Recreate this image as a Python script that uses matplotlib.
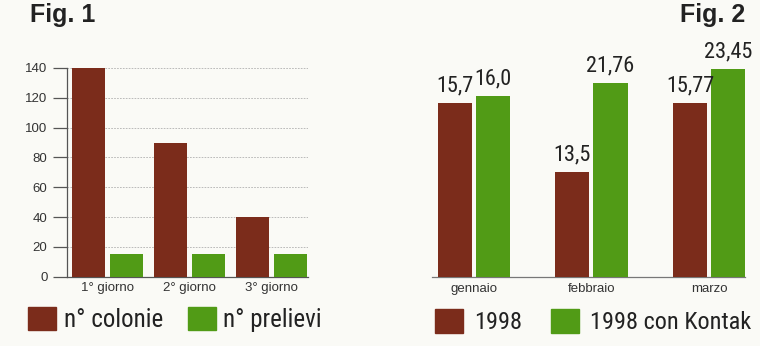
import os
import numpy as np
import matplotlib.pyplot as plt
from matplotlib.patches import Patch
from matplotlib import font_manager as fm

# dati Fig. 1
giorni = ['1° giorno', '2° giorno', '3° giorno']
colonie = [140, 90, 40]
prelievi = [15, 15, 15]
y_ticks = [0, 20, 40, 60, 80, 100, 120, 140]

# dati Fig. 2 (le altezze disegnate non sono proporzionali alle etichette)
mesi = ['gennaio', 'febbraio', 'marzo']
etichette_1998 = ['15,7', '13,5', '15,77']
etichette_kontak = ['16,0', '21,76', '23,45']
altezze_1998 = [174, 105, 174]
altezze_kontak = [181, 194, 208]

MARRONE = '#7b2c1b'
VERDE = '#519b16'
SFONDO = '#fafaf6'

# cerca un carattere stretto (condensed / narrow) fra quelli installati
preferiti = ['LiberationSansNarrow-Regular', 'NotoSans-Condensed.', 'NotoSans-Condensed-',
             'RobotoCondensed-Regular', 'Roboto_Condensed-Regular', 'OpenSans-CondensedRegular',
             'OpenSans_Condensed-Regular', 'DejaVuSansCondensed.']
file_font = None
nomi = [f.fname for f in fm.fontManager.ttflist]
for p in preferiti:
    trovati = [n for n in nomi if p in os.path.basename(n)]
    if trovati:
        file_font = trovati[0]
        break
if file_font is None:
    scarta = ['Bold', 'Italic', 'Light', 'Black', 'Thin', 'Medium', 'SemiBold', 'Extra']
    altri = [n for n in nomi if ('Condensed' in os.path.basename(n) or 'Narrow' in os.path.basename(n))
             and not any(s in os.path.basename(n) for s in scarta)]
    if altri:
        file_font = sorted(altri)[0]


def stretto(size):
    if file_font:
        return fm.FontProperties(fname=file_font, size=size)
    return fm.FontProperties(family=['Liberation Sans', 'DejaVu Sans'], size=size * 0.85)


plt.rcParams['font.family'] = ['Liberation Sans', 'DejaVu Sans']

W, H = 760, 346
fig = plt.figure(figsize=(W / 100, H / 100), dpi=100, facecolor=SFONDO)

# ---------- Fig. 1 ----------
ax1 = fig.add_axes([67 / W, 69.3 / H, 241 / W, 208.7 / H])
ax1.set_facecolor(SFONDO)
x = np.arange(len(giorni))
ax1.bar(x - 0.232, colonie, width=0.40, color=MARRONE, zorder=3)
ax1.bar(x + 0.232, prelievi, width=0.40, color=VERDE, zorder=3)
ax1.set_xlim(-0.494, 2.445)
ax1.set_ylim(0, 140)
ax1.set_yticks(y_ticks)
ax1.set_xticks(x)
ax1.set_xticklabels(giorni, fontsize=9.5, color='#333333')
ax1.tick_params(axis='y', length=10, width=0.9, color='#555555', labelsize=9.5, labelcolor='#333333', pad=4)
ax1.tick_params(axis='x', length=0, pad=4)
for yy in y_ticks[1:]:
    ax1.axhline(yy, color='#b0b0b0', lw=0.6, ls=(0, (2, 1.5)), zorder=1)
for s in ['top', 'right']:
    ax1.spines[s].set_visible(False)
for s in ['left', 'bottom']:
    ax1.spines[s].set_color('#555555')
    ax1.spines[s].set_linewidth(0.9)

fig.text(30 / W, 1 - 3 / H, 'Fig. 1', fontsize=18, fontweight='bold', color='#222222', ha='left', va='top')

leg1 = fig.legend(handles=[Patch(color=MARRONE, label='n° colonie'), Patch(color=VERDE, label='n° prelievi')],
                  loc='upper left', bbox_to_anchor=(28 / W, 1 - 307 / H), ncol=2, frameon=False,
                  prop=stretto(18), handlelength=1.12, handleheight=1.04,
                  handletextpad=0.3, columnspacing=1.0, borderpad=0, borderaxespad=0)
for t in leg1.get_texts():
    t.set_color('#222222')

# ---------- Fig. 2 ----------
ax2 = fig.add_axes([432 / W, 69 / H, 313 / W, 210 / H])
ax2.set_facecolor(SFONDO)
x2 = np.arange(len(mesi))
b1 = ax2.bar(x2 - 0.162, altezze_1998, width=0.29, color=MARRONE, zorder=3)
b2 = ax2.bar(x2 + 0.162, altezze_kontak, width=0.29, color=VERDE, zorder=3)
for barre, etich in [(b1, etichette_1998), (b2, etichette_kontak)]:
    testi = ax2.bar_label(barre, labels=etich, padding=5, color='#222222')
    for t in testi:
        t.set_fontproperties(stretto(16))
ax2.set_xlim(-0.357, 2.306)
ax2.set_ylim(0, 210)
ax2.set_yticks([])
ax2.set_xticks(x2)
ax2.set_xticklabels(mesi, fontsize=9.5, color='#333333')
ax2.tick_params(axis='x', length=0, pad=4)
for s in ['top', 'right', 'left']:
    ax2.spines[s].set_visible(False)
ax2.spines['bottom'].set_color('#777777')
ax2.spines['bottom'].set_linewidth(0.9)

fig.text(745 / W, 1 - 3 / H, 'Fig. 2', fontsize=18, fontweight='bold', color='#222222', ha='right', va='top')

leg2 = fig.legend(handles=[Patch(color=MARRONE, label='1998'), Patch(color=VERDE, label='1998 con Kontak')],
                  loc='upper left', bbox_to_anchor=(435 / W, 1 - 309 / H), ncol=2, frameon=False,
                  prop=stretto(17.5), handlelength=1.15, handleheight=1.12,
                  handletextpad=0.45, columnspacing=1.2, borderpad=0, borderaxespad=0)
for t in leg2.get_texts():
    t.set_color('#222222')

fig.savefig('out.png', dpi=100, facecolor=SFONDO)
